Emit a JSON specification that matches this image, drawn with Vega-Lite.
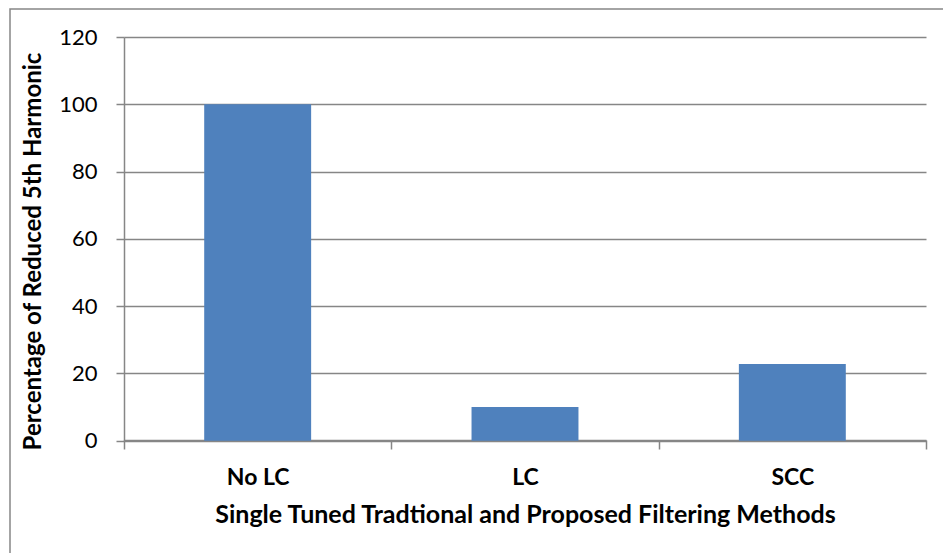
{
  "$schema": "https://vega.github.io/schema/vega-lite/v6.json",
  "width": 940,
  "height": 560,
  "padding": {"left": 10, "top": 9, "right": 0, "bottom": 0},
  "background": "white",
  "data": {
    "values": [
      {"method": "No LC", "reduction": 100},
      {"method": "LC", "reduction": 10},
      {"method": "SCC", "reduction": 22.8}
    ]
  },
  "mark": {"type": "bar", "color": "#4F81BD", "width": {"band": 0.4}},
  "encoding": {
    "x": {
      "field": "method",
      "type": "nominal",
      "sort": ["No LC", "LC", "SCC"],
      "scale": {"range": [114, 916], "paddingInner": 0, "paddingOuter": 0},
      "axis": {
        "title": "Single Tuned Tradtional and Proposed Filtering Methods",
        "labelAngle": 0,
        "offset": -129,
        "tickBand": "extent",
        "tickSize": 9,
        "labelPadding": 17,
        "titlePadding": 13
      }
    },
    "y": {
      "field": "reduction",
      "type": "quantitative",
      "scale": {"domain": [0, 120], "range": [431.7, 28], "nice": false},
      "axis": {
        "title": "Percentage of Reduced 5th Harmonic",
        "values": [0, 20, 40, 60, 80, 100, 120],
        "offset": -114,
        "tickSize": 8,
        "labelPadding": 19,
        "titlePadding": 13,
        "titleY": 242
      }
    }
  },
  "config": {
    "view": {"stroke": "#868686", "strokeWidth": 1.5},
    "font": "Lato",
    "axis": {
      "domainColor": "#868686",
      "tickColor": "#868686",
      "gridColor": "#868686",
      "domainWidth": 1.5,
      "tickWidth": 1.5,
      "gridWidth": 1.5,
      "labelColor": "black",
      "titleColor": "black",
      "labelFont": "Lato",
      "titleFont": "Lato",
      "titleFontWeight": "bold",
      "titleFontSize": 24
    },
    "axisX": {"grid": false, "labelFontSize": 23, "labelFontWeight": "bold", "titleFontSize": 25},
    "axisY": {"grid": true, "labelFontSize": 22, "labelFontWeight": "normal"}
  }
}
